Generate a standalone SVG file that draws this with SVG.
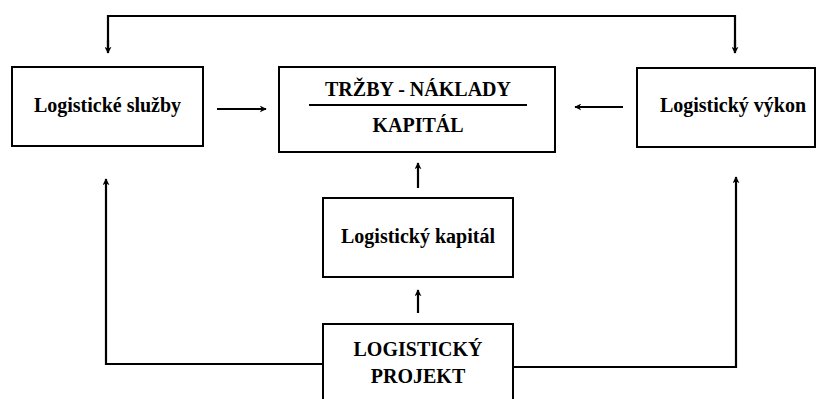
<svg xmlns="http://www.w3.org/2000/svg" width="817" height="399" viewBox="0 0 817 399">
  <style>
    .box { fill: #fff; stroke: #000; stroke-width: 2; }
    .lbl { font-family: "Liberation Serif", "Times New Roman", serif; font-weight: bold; font-size: 20px; fill: #000; text-anchor: middle; }
    .wire { fill: none; stroke: #000; stroke-width: 2.2; }
  </style>
  <defs>
    <marker id="head" viewBox="0 0 10 10" refX="9" refY="5" markerWidth="7" markerHeight="7" orient="auto" markerUnits="userSpaceOnUse">
      <path d="M0,0 L10,5 L0,10 L3,5 Z" fill="#000"/>
    </marker>
  </defs>
  <rect width="817" height="399" fill="#fff"/>

  <g id="connectors">
    <!-- top loop feeding both side boxes -->
    <path class="wire" d="M108,50 V16 H735 V50" />
    <path class="wire" d="M108,40 V53" marker-end="url(#head)" />
    <path class="wire" d="M735,40 V53" marker-end="url(#head)" />
    <!-- side boxes into the ratio box -->
    <path class="wire" d="M217,109 H266" marker-end="url(#head)" />
    <path class="wire" d="M623,107 H575" marker-end="url(#head)" />
    <!-- central column -->
    <path class="wire" d="M418,188 V163" marker-end="url(#head)" />
    <path class="wire" d="M418,313 V290" marker-end="url(#head)" />
    <!-- project out to both sides -->
    <path class="wire" d="M323,364 H106 V179" marker-end="url(#head)" />
    <path class="wire" d="M513,367 H736 V177" marker-end="url(#head)" />
  </g>

  <g id="sluzby">
    <rect class="box" x="12" y="67" width="191" height="79"/>
    <text class="lbl" x="107.5" y="112">Logistické služby</text>
  </g>

  <g id="ratio">
    <rect class="box" x="279" y="67" width="276" height="85"/>
    <text class="lbl" x="418" y="96">TRŽBY - NÁKLADY</text>
    <line x1="309" y1="105" x2="527" y2="105" stroke="#000" stroke-width="2"/>
    <text class="lbl" x="418" y="132">KAPITÁL</text>
  </g>

  <g id="vykon">
    <rect class="box" x="637" y="68" width="178" height="79"/>
    <text class="lbl" x="733" y="112">Logistický výkon</text>
  </g>

  <g id="kapital">
    <rect class="box" x="323" y="198" width="190" height="79"/>
    <text class="lbl" x="418" y="243">Logistický kapitál</text>
  </g>

  <g id="projekt">
    <rect class="box" x="323" y="324" width="190" height="90"/>
    <text class="lbl" x="418" y="356">LOGISTICKÝ</text>
    <text class="lbl" x="418" y="383">PROJEKT</text>
  </g>
</svg>
